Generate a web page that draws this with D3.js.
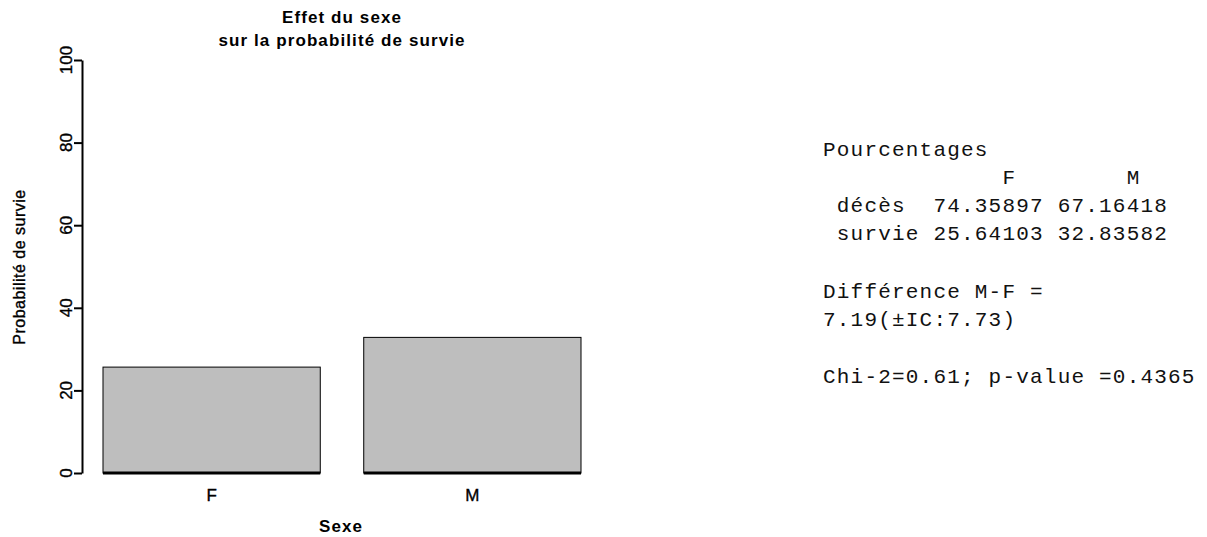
<!DOCTYPE html>
<html>
<head>
<meta charset="utf-8">
<script src="https://cdn.jsdelivr.net/npm/d3@7"></script>
<style>
  body { margin: 0; background: #fff; }
  svg { display: block; font-family: "Liberation Sans", Arial, sans-serif; }
  .mono { font-family: "Liberation Mono", "Courier New", monospace; white-space: pre; }
  .heavy { stroke: #000; stroke-width: 0.35; }
</style>
</head>
<body>
<div id="container"></div>
<script>
const width = 1207;
const height = 537;

// data
const categories = ["F", "M"];
const rowNames = ["décès", "survie"];
const deces = [74.35897, 67.16418];
const survie = [25.64103, 32.83582];
const yTicks = [0, 20, 40, 60, 80, 100];
const diffText = ["Différence M-F =", "7.19(±IC:7.73)"];
const chiText = "Chi-2=0.61; p-value =0.4365";

const svg = d3
  .select("#container")
  .append("svg")
  .attr("width", width)
  .attr("height", height);

const x = d3
  .scaleBand()
  .domain(categories)
  .range([103, 581])
  .paddingInner(1 / 6)
  .paddingOuter(0);

const y = d3.scaleLinear().domain([0, 100]).range([473, 60]);

// bars
svg
  .selectAll("rect.bar")
  .data(survie)
  .enter()
  .append("rect")
  .attr("class", "bar")
  .attr("x", (d, i) => x(categories[i]))
  .attr("y", (d) => y(d))
  .attr("width", x.bandwidth())
  .attr("height", (d) => y(0) - y(d))
  .attr("fill", "#bebebe")
  .attr("stroke", "#000")
  .attr("stroke-width", 1);

// thick base line of each bar
svg
  .selectAll("line.base")
  .data(categories)
  .enter()
  .append("line")
  .attr("class", "base")
  .attr("x1", (d) => x(d))
  .attr("x2", (d) => x(d) + x.bandwidth())
  .attr("y1", y(0))
  .attr("y2", y(0))
  .attr("stroke", "#000")
  .attr("stroke-width", 3);

// y axis
const yAxis = svg
  .append("g")
  .attr("transform", "translate(82,0)")
  .call(d3.axisLeft(y).tickValues(yTicks).tickSize(8).tickSizeOuter(0).tickFormat(""));

yAxis.selectAll("path, line").attr("stroke", "#000").attr("stroke-width", 2);

svg
  .selectAll("text.ytick")
  .data(yTicks)
  .enter()
  .append("text")
  .attr("class", "ytick heavy")
  .attr("transform", (d) => `translate(72,${y(d)}) rotate(-90)`)
  .attr("text-anchor", "middle")
  .attr("font-size", 17)
  .text((d) => d);

// x labels
svg
  .selectAll("text.xlab")
  .data(categories)
  .enter()
  .append("text")
  .attr("class", "xlab heavy")
  .attr("x", (d) => x(d) + x.bandwidth() / 2)
  .attr("y", 501)
  .attr("text-anchor", "middle")
  .attr("font-size", 17)
  .text((d) => d);

// titles
svg.append("text")
  .attr("x", 342).attr("y", 23)
  .attr("text-anchor", "middle")
  .attr("font-size", 17).attr("font-weight", "bold")
  .attr("letter-spacing", 1.1)
  .text("Effet du sexe");

svg.append("text")
  .attr("x", 342).attr("y", 46)
  .attr("text-anchor", "middle")
  .attr("font-size", 17).attr("font-weight", "bold")
  .attr("letter-spacing", 1.1)
  .text("sur la probabilité de survie");

svg.append("text")
  .attr("x", 341).attr("y", 532)
  .attr("text-anchor", "middle")
  .attr("font-size", 17).attr("font-weight", "bold")
  .attr("letter-spacing", 1.1)
  .text("Sexe");

svg.append("text")
  .attr("class", "heavy")
  .attr("transform", "translate(25,267) rotate(-90)")
  .attr("text-anchor", "middle")
  .attr("font-size", 16)
  .attr("letter-spacing", 0.5)
  .text("Probabilité de survie");

// text panel on the right
const fmt = (v) => v.toFixed(5);
const pad = (s, n) => s.padStart(n, " ");
const lines = [
  { t: "Pourcentages", y: 156 },
  { t: pad(categories[0], 14) + pad(categories[1], 9), y: 184 },
  { t: " " + rowNames[0] + "  " + fmt(deces[0]) + " " + fmt(deces[1]), y: 212 },
  { t: " " + rowNames[1] + " " + fmt(survie[0]) + " " + fmt(survie[1]), y: 240 },
  { t: diffText[0], y: 298 },
  { t: diffText[1], y: 326 },
  { t: chiText, y: 383 }
];

svg
  .selectAll("text.panel")
  .data(lines)
  .enter()
  .append("text")
  .attr("class", "panel mono")
  .attr("x", 823)
  .attr("y", (d) => d.y)
  .attr("font-size", 21)
  .attr("letter-spacing", 1.2)
  .attr("fill", "#111")
  .text((d) => d.t);
</script>
</body>
</html>
